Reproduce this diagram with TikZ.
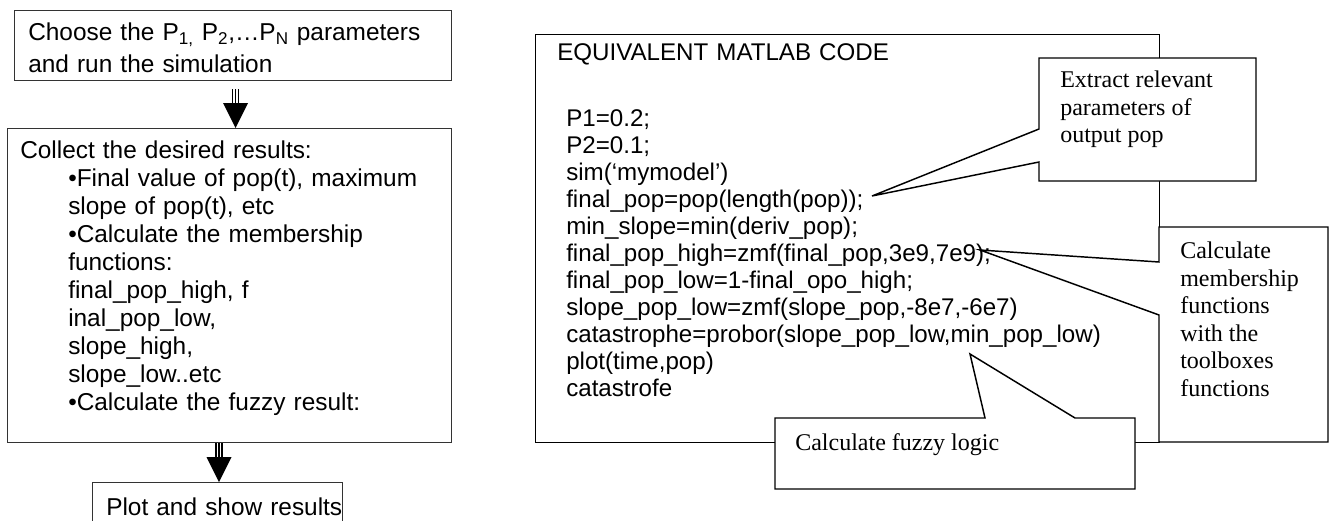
\documentclass[tikz,border=0pt]{standalone}
\usepackage{fontspec}
\setmainfont{Liberation Sans}
\newfontfamily\timesfont{Liberation Serif}
\usetikzlibrary{calc}
\tikzset{
  flowbox/.style={draw=black!80,line width=1pt,anchor=north west,inner sep=0pt},
  boxtext/.style={anchor=north west,inner sep=0pt,align=left,text width=330pt,
    font=\fontsize{18.3}{21}\selectfont},
  codetext/.style={boxtext,text width=450pt,font=\fontsize{18.1}{20.25}\selectfont},
  callout/.style={draw,line width=1.1pt,fill=white,line join=miter},
  callouttext/.style={anchor=north west,inner sep=0pt,align=left,
    font=\timesfont\fontsize{18}{20.6}\selectfont},
}
\newcommand\fatarrow[2]{%
  \foreach \dx in {-3,0,3}
    \draw[line width=1.1pt] ($(#1)+(\dx,0)$) -- ($(#2)+(\dx,-25)$);
  \fill ($(#2)+(-12.5,-25)$) -- (#2) -- ($(#2)+(12.5,-25)$) -- cycle;
}
\begin{document}
\begin{tikzpicture}[x=0.75pt,y=-0.75pt]
\useasboundingbox (0,0) rectangle (1332,521);
\clip (0,0) rectangle (1332,521);
% flow on the left
\node[flowbox,minimum width=327.75pt,minimum height=52.5pt] (box1) at (14,10) {};
\node[flowbox,minimum width=333pt,minimum height=235.5pt] (box2) at (7,128) {};
\node[flowbox,minimum width=187.5pt,minimum height=45pt] (box3) at (92,482) {};
\node[boxtext] (t1) at ($(box1.north west)+(14,13)$)
  {Choose the P\textsubscript{1,} P\textsubscript{2},…P\textsubscript{N} parameters\\[2.5pt]and run the simulation};
\node[boxtext] (t2) at ($(box2.north west)+(13,13)$)
  {Collect the desired results:\par
   \leftskip=36pt •Final value of pop(t), maximum\\slope of pop(t), etc\\•Calculate the membership\\
   functions:\\final\_pop\_high, f\\inal\_pop\_low,\\slope\_high,\\slope\_low..etc\\
   •Calculate the fuzzy result:\par};
\node[boxtext] (t3) at ($(box3.north west)+(14,16)$) {Plot and show results};
\coordinate (ax1) at (235.5,0);
\coordinate (ax2) at (219,0);
\path ($(box1.south -| ax1)+(0,8)$) coordinate (s1) (box2.north -| ax1) coordinate (e1);
\path (box2.south -| ax2) coordinate (s2) (box3.north -| ax2) coordinate (e2);
\fatarrow{s1}{e1}
\fatarrow{s2}{e2}
% matlab code and callouts
\node[draw,line width=1.1pt,anchor=north west,inner sep=0pt,
  minimum width=468pt,minimum height=306pt] (code) at (535,34) {};
\node[codetext] (tcode) at ($(code.north west)+(22,9)$)
  {EQUIVALENT MATLAB CODE\par\vspace{29.25pt}
   \leftskip=6.75pt P1=0.2;\\P2=0.1;\\sim(`mymodel')\\final\_pop=pop(length(pop));\\
   min\_slope=min(deriv\_pop);\\final\_pop\_high=zmf(final\_pop,3e9,7e9);\\
   final\_pop\_low=1-final\_opo\_high;\\slope\_pop\_low=zmf(slope\_pop,-8e7,-6e7)\\
   catastrophe=probor(slope\_pop\_low,min\_pop\_low)\\plot(time,pop)\\catastrofe\par};
\coordinate (tip1) at (872,196);
\coordinate (tip2) at (980,250);
\coordinate (tip3) at (970,354);
\draw[callout] (1039,58) -- (1256,58) -- (1256,181) -- (1039,181) -- (1039,162)
  -- (tip1) -- (1039,129) -- cycle;
\node[callouttext] (extract) at (1060,71) {Extract relevant\\parameters of\\output pop};
\draw[callout] (1159,227) -- (1328,227) -- (1328,442) -- (1159,442) -- (1159,315)
  -- (tip2) -- (1159,262) -- cycle;
\node[callouttext] (member) at (1180,242)
  {Calculate\\membership\\functions\\with the\\toolboxes\\functions};
\draw[callout] (775,418) -- (985,418) -- (tip3) -- (1075,418) -- (1135,418)
  -- (1135,489) -- (775,489) -- cycle;
\node[callouttext] (fuzzy) at (795,433) {Calculate fuzzy logic};
\end{tikzpicture}
\end{document}
